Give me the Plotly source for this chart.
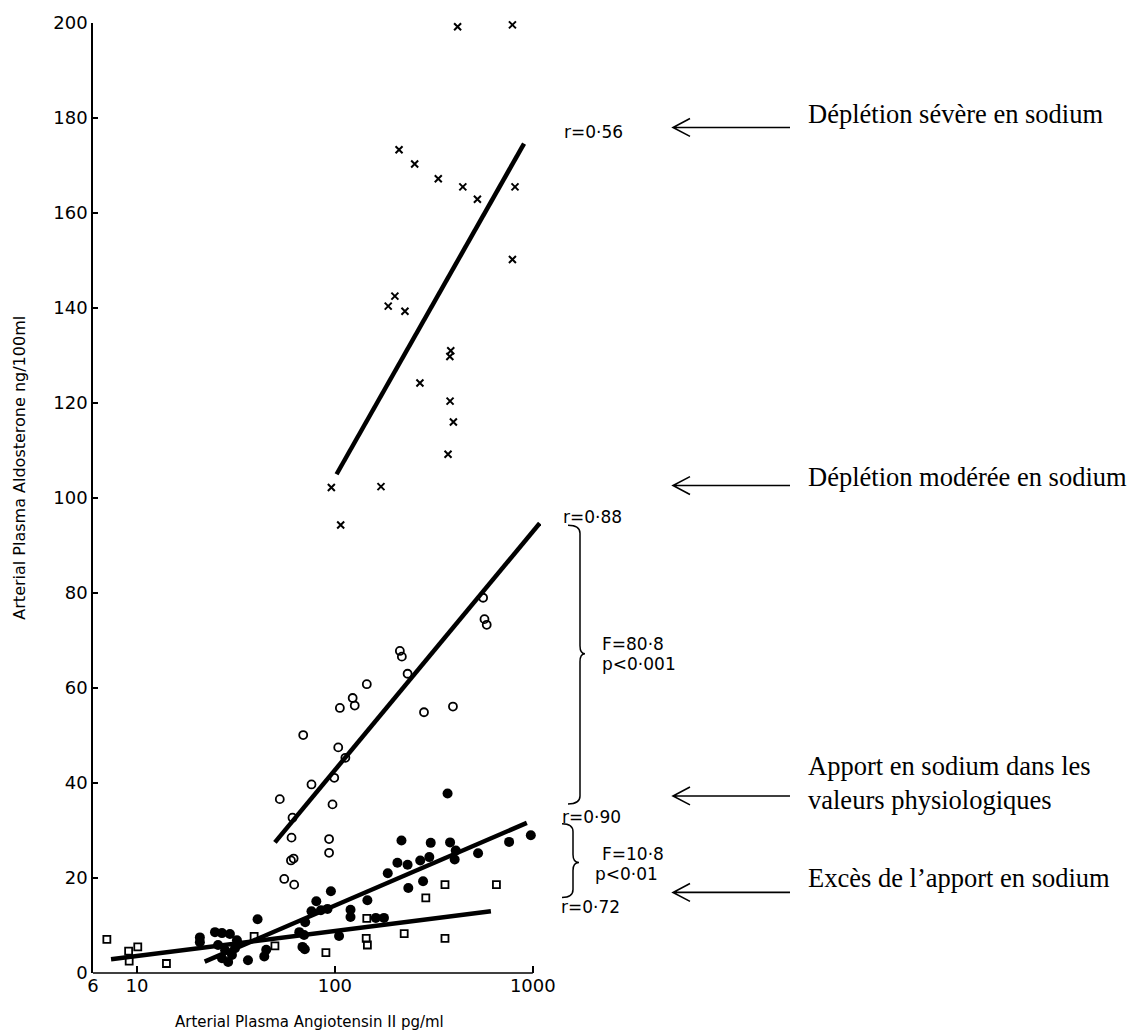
import math
import plotly.graph_objects as go

# ---------------- data ----------------
# Severe sodium depletion (x markers)
severe_x = [417, 789, 211, 253, 333, 443, 525, 813, 789, 201, 186, 226, 381, 385,
            269, 382, 397, 373, 96, 171, 107]
severe_y = [199.2, 199.6, 173.3, 170.3, 167.2, 165.5, 162.9, 165.5, 150.2, 142.5, 140.4,
            139.3, 129.8, 131.0, 124.2, 120.4, 116.0, 109.2, 102.2, 102.4, 94.3]

# Moderate sodium depletion (open circles)
moderate_x = [1140, 561, 570, 585, 213, 218, 233, 145, 123, 126, 106, 282, 395, 69.2,
              104, 113, 99.3, 76.2, 97.3, 52.7, 61.1, 60.4, 93.5, 93.5, 60, 61.9, 55.5, 62.3]
moderate_y = [101.2, 79.0, 74.5, 73.3, 67.8, 66.6, 63.0, 60.8, 57.9, 56.3, 55.8, 54.9, 56.1,
              50.1, 47.5, 45.3, 41.1, 39.7, 35.5, 36.6, 32.7, 28.5, 28.2, 25.3, 23.7, 24.1,
              19.8, 18.6]

# Physiological sodium intake (filled circles)
physio_x = [371, 217, 305, 382, 759, 977, 529, 408, 403, 207, 233, 270, 300, 185, 235, 279,
            95.5, 80.6, 76.2, 85, 91.8, 120, 120, 146, 161, 177, 105,
            70.8, 66.1, 69.9, 68.6, 70.5,
            20.8, 20.8, 24.8, 26.9, 29.5, 25.7, 27.9, 30.2, 28.9, 31.3, 32.0, 26.9, 36.4,
            40.7, 45, 44]
physio_y = [37.8, 27.9, 27.4, 27.5, 27.6, 29.0, 25.2, 25.8, 23.9, 23.2, 22.8, 23.7, 24.4,
            21.0, 17.9, 19.3, 17.2, 15.1, 13.0, 13.2, 13.5, 13.3, 11.8, 15.3, 11.6, 11.6, 7.8,
            10.7, 8.6, 8.0, 5.5, 5.0,
            7.5, 6.5, 8.6, 8.4, 8.2, 5.9, 4.8, 3.8, 2.3, 5.2, 6.9, 3.1, 2.7,
            11.3, 4.9, 3.5]

# Excess sodium intake (open squares)
excess_x = [7.05, 9.08, 9.14, 10.1, 14.1, 39.1, 49.8, 90.1, 145, 144, 146, 224, 360, 288,
            360, 655]
excess_y = [7.1, 4.6, 2.5, 5.5, 2.0, 7.7, 5.7, 4.3, 11.5, 7.3, 5.9, 8.3, 7.3, 15.8, 18.6,
            18.6]

# Regression lines (end points)
severe_fit_x, severe_fit_y = [102, 903], [105.0, 174.6]
moderate_fit_x, moderate_fit_y = [49.8, 1084], [27.5, 94.7]
physio_fit_x, physio_fit_y = [22, 933], [2.4, 31.6]
excess_fit_x, excess_fit_y = [7.4, 614], [2.9, 13.0]

y_ticks = [0, 20, 40, 60, 80, 100, 120, 140, 160, 180, 200]
x_ticks = [6, 10, 100, 1000]
x_tick_labels = ["6", "10", "100", "1000"]

stats_labels = ["r=0·56", "r=0·88", "r=0·90", "r=0·72"]
test_labels = ["F=80·8", "p&lt;0·001", "F=10·8", "p&lt;0·01"]
group_labels = ["Déplétion sévère en sodium", "Déplétion modérée en sodium",
                "Apport en sodium dans les<br>valeurs physiologiques",
                "Excès de l’apport en sodium"]

# ---------------- layout geometry ----------------
W, H = 1135, 1036
L, R, T, B = 93, 541, 18, 973
XMIN, XMAX = 6, 1100
LO, HI = math.log10(XMIN), math.log10(XMAX)


def px(x):
    return (x - L) / (R - L)


def py(y):
    return (B - y) / (B - T)


def xpaper(v):
    return (math.log10(v) - LO) / (HI - LO)


fig = go.Figure()

line_style = dict(color="black", width=4.5)
for fx, fy in [(severe_fit_x, severe_fit_y), (moderate_fit_x, moderate_fit_y),
               (physio_fit_x, physio_fit_y), (excess_fit_x, excess_fit_y)]:
    fig.add_trace(go.Scatter(x=fx, y=fy, mode="lines", line=line_style,
                             hoverinfo="skip", showlegend=False))

fig.add_trace(go.Scatter(x=severe_x, y=severe_y, mode="markers", cliponaxis=False,
                         marker=dict(symbol="x-thin", size=7, color="black",
                                     line=dict(color="black", width=2)),
                         showlegend=False))
fig.add_trace(go.Scatter(x=moderate_x, y=moderate_y, mode="markers", cliponaxis=False,
                         marker=dict(symbol="circle-open", size=8, color="black",
                                     line=dict(color="black", width=1.8)),
                         showlegend=False))
fig.add_trace(go.Scatter(x=physio_x, y=physio_y, mode="markers", cliponaxis=False,
                         marker=dict(symbol="circle", size=10, color="black",
                                     line=dict(width=0)),
                         showlegend=False))
fig.add_trace(go.Scatter(x=excess_x, y=excess_y, mode="markers", cliponaxis=False,
                         marker=dict(symbol="square-open", size=7, color="black",
                                     line=dict(color="black", width=1.8)),
                         showlegend=False))

shapes = []
# x axis line from 6 to 1000
shapes.append(dict(type="line", xref="paper", yref="paper", x0=0, x1=xpaper(1000),
                   y0=0, y1=0, line=dict(color="black", width=1.5)))


def brace(x0, ytop, ymid, ybot, curl, point):
    p = (f"M{px(x0 - curl):.5f},{py(ytop):.5f} "
         f"Q{px(x0):.5f},{py(ytop):.5f} {px(x0):.5f},{py(ytop + 8):.5f} "
         f"L{px(x0):.5f},{py(ymid - 8):.5f} "
         f"Q{px(x0):.5f},{py(ymid):.5f} {px(x0 + point):.5f},{py(ymid):.5f} "
         f"Q{px(x0):.5f},{py(ymid):.5f} {px(x0):.5f},{py(ymid + 8):.5f} "
         f"L{px(x0):.5f},{py(ybot - 8):.5f} "
         f"Q{px(x0):.5f},{py(ybot):.5f} {px(x0 - curl):.5f},{py(ybot):.5f}")
    return dict(type="path", xref="paper", yref="paper", path=p,
                line=dict(color="black", width=1.5))


shapes.append(brace(580, 523, 652, 803, 12, 5))
shapes.append(brace(573, 823, 862, 897, 11, 6))


def arrow(ypix, x_head=673, x_tail=790):
    p = (f"M{px(x_tail):.5f},{py(ypix):.5f} L{px(x_head):.5f},{py(ypix):.5f} "
         f"M{px(x_head + 17):.5f},{py(ypix - 9):.5f} L{px(x_head):.5f},{py(ypix):.5f} "
         f"L{px(x_head + 17):.5f},{py(ypix + 9):.5f}")
    return dict(type="path", xref="paper", yref="paper", path=p,
                line=dict(color="black", width=1.6))


for ya in [123, 483, 795, 892]:
    shapes.append(arrow(ya))

annotations = []
sans = "DejaVu Sans"
for txt, (xx, yy) in zip(stats_labels, [(593, 128), (592, 515), (591, 816), (590, 907)]):
    annotations.append(dict(text=txt, xref="paper", yref="paper", x=px(xx), y=py(yy),
                            xanchor="center", yanchor="middle", showarrow=False,
                            font=dict(family=sans, size=17, color="black")))
for txt, (xx, yy) in zip(test_labels, [(600, 642), (600, 662), (600, 853), (593, 873)]):
    annotations.append(dict(text=txt, xref="paper", yref="paper", x=px(xx), y=py(yy),
                            xanchor="left", yanchor="middle", showarrow=False,
                            font=dict(family=sans, size=17, color="black")))
for txt, yy in zip(group_labels, [109, 474, 782, 877]):
    annotations.append(dict(text=txt, xref="paper", yref="paper", x=px(806), y=py(yy),
                            xanchor="left", yanchor="middle", align="left", showarrow=False,
                            font=dict(family="Liberation Serif", size=26.5, color="black")))

annotations.append(dict(text="Arterial Plasma Aldosterone ng/100ml", xref="paper",
                        yref="paper", x=px(20), y=py(465), textangle=-90,
                        xanchor="center", yanchor="middle", showarrow=False,
                        font=dict(family=sans, size=16, color="black")))
annotations.append(dict(text="Arterial Plasma Angiotensin II pg/ml", xref="paper",
                        yref="paper", x=px(309), y=py(1022),
                        xanchor="center", yanchor="middle", showarrow=False,
                        font=dict(family=sans, size=15, color="black")))

fig.update_layout(
    width=W, height=H,
    margin=dict(l=L, r=W - R, t=T, b=H - B, pad=0),
    paper_bgcolor="white", plot_bgcolor="white",
    xaxis=dict(type="log", range=[LO, HI], tickvals=x_ticks, ticktext=x_tick_labels,
               ticks="inside", ticklen=7, tickwidth=1.5, tickcolor="black",
               showline=False, showgrid=False, zeroline=False,
               tickfont=dict(family=sans, size=18, color="black")),
    yaxis=dict(range=[0, 200], tickvals=y_ticks, ticks="inside", ticklen=5, tickwidth=1.5,
               tickcolor="black", showline=True, linecolor="black", linewidth=1.5,
               showgrid=False, zeroline=False,
               tickfont=dict(family=sans, size=18, color="black")),
    shapes=shapes, annotations=annotations,
)

fig.write_html("out.html", config={"displayModeBar": False},
               post_script="document.body.style.margin='0';")
